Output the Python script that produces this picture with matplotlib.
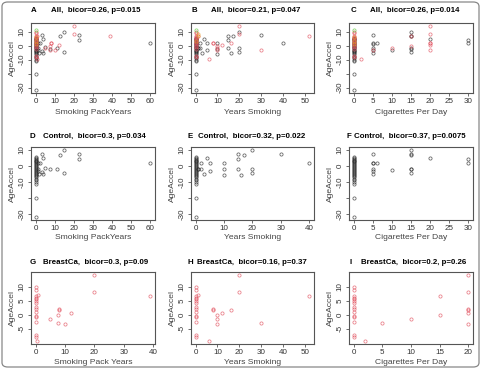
import matplotlib
matplotlib.use("Agg")
import matplotlib.pyplot as plt
from matplotlib.patches import FancyBboxPatch

plt.rcParams['font.family'] = ['Liberation Sans', 'DejaVu Sans']

# ---------------- data ----------------
ctrl_zero_y = [5.6, 5.0, 4.4, 3.8, 3.2, 2.7, 2.1, 1.5, 1.0, 0.4, -0.2, -0.8, -1.3, -1.9,
               -2.5, -3.0, -3.6, -4.2, -4.8, -5.5, -6.3, -7.2, -8.1, -9.0, -10.0, -11.0,
               -20.0, -32.0]
bc_zero_y = [9.7, 8.8, 6.6, 6.0, 5.4, 4.8, 4.0, 2.8, 1.9, 0.9, -0.4, -0.9, -2.5, -7.2, -8.1]

# control smokers
ctrl_pack_x = [1, 1, 1, 2.3, 2, 3.5, 4, 3.3, 3.7, 5, 7.5, 11.4, 12.8, 15, 15, 22.7, 22.7, 60]
ctrl_pack_y = [2, -2, -3, 2, -5.3, 7.4, 4.6, -4, -5.3, -1.3, -2.3, -1.7, 6.7, 10, -4.4, 7.4, 4.2, 2]
ctrl_years_x = [1, 1, 2, 2, 3, 4, 5, 5, 10, 10, 10, 15, 15, 15, 16, 17, 20, 20, 20, 30, 40]
ctrl_years_y = [-1.7, -1.7, -1.7, 2, -5.3, 4.6, 1.9, -3.4, 1.9, -2.3, -6, 7.2, 4.2, -1.7,
                -5.5, 6.7, 10, -1.7, -4.4, 7.4, 2]
ctrl_cig_x = [5, 5, 5, 5, 5, 5, 6, 10, 15, 15, 15, 15, 15, 15, 20, 30, 30]
ctrl_cig_y = [7.4, 2, 1.5, -1.7, -3.4, -5.3, 2, -2.8, 10, 7.2, 6.7, -1.7, -2.3, -4.4, 4.6, 4.2, 2]

# breast cancer smokers
bc_pack_x = [0.6, 0.9, 5, 7.5, 7.5, 8.1, 8.1, 10.1, 12, 20, 20, 39]
bc_pack_y = [-9.6, 7.0, -1.6, -0.1, -3.0, 2.0, 1.6, -3.4, 0.7, 14.3, 8.1, 6.8]
bc_years_x = [1, 6, 8, 8, 10, 10, 10, 12, 16, 20, 20, 30, 52]
bc_years_y = [7.0, -9.6, 2.0, 1.6, 0.0, -1.5, -3.4, 0.7, 1.8, 14.3, 8.1, -3.0, 6.8]
bc_cig_x = [2, 5, 10, 15, 15, 20, 20, 20, 20, 20, 20]
bc_cig_y = [-9.6, -3.0, -1.5, 0.0, 6.8, 14.3, 8.1, 2.0, 1.6, 0.7, -3.4]

# extra (other) group shown only in "All" panels
oth_pack_x = [0, 0, 0, 0]
oth_pack_y = [11.0, 6.5, 3.5, 1.0]
oth_years_x = [0, 1, 1, 0]
oth_years_y = [11.0, 8.5, 7.0, 3.5]
oth_cig_x = [0, 0, 0, 0]
oth_cig_y = [11.0, 6.5, 3.5, 1.0]

letters = ["A", "B", "C", "D", "E", "F", "G", "H", "I"]
titles = ["All,  bicor=0.26, p=0.015", "All,  bicor=0.21, p=0.047", "All,  bicor=0.26, p=0.014",
          "Control,  bicor=0.3, p=0.034", "Control,  bicor=0.32, p=0.022", "Control,  bicor=0.37, p=0.0075",
          "BreastCa,  bicor=0.3, p=0.09", "BreastCa,  bicor=0.16, p=0.37", "BreastCa,  bicor=0.2, p=0.26"]
xlabels = ["Smoking PackYears", "Years Smoking", "Cigarettes Per Day",
           "Smoking PackYears", "Years Smoking", "Cigarettes Per Day",
           "Smoking Pack Years", "Years Smoking", "Cigarettes Per Day"]
xticks = [[0, 10, 20, 30, 40, 50, 60], [0, 10, 20, 30, 40, 50], [0, 5, 10, 15, 20, 25, 30],
          [0, 10, 20, 30, 40, 50, 60], [0, 10, 20, 30, 40], [0, 5, 10, 15, 20, 25, 30],
          [0, 10, 20, 30, 40], [0, 10, 20, 30, 40, 50], [0, 5, 10, 15, 20]]
yticks_top = [-30, -20, -10, 0, 10]
ylabels_top = ["-30", "", "-10", "0", "10"]
yticks_bot = [-5, 0, 5, 10]
ylabels_bot = ["-5", "0", "5", "10"]

# ---------------- layout ----------------
W, H = 481, 369
fig = plt.figure(figsize=(W / 100, H / 100), dpi=100)

col_x = [(31, 155), (191, 314), (349, 473)]
row_y = [(23, 93), (147, 220), (272, 344)]
title_y = [11, 136, 262]
xlab_y = [113, 237, 363]
ylab_x = [12, 172, 330]
letter_x = [[31, 191, 351], [30, 187, 347], [30, 187, 350]]
text_x = [[51, 211, 370], [43, 198, 354], [43, 197, 361]]

BLACK = "#2b2b2b"
RED = "#e2505e"
GREEN = "#66cc44"
ORANGE = "#e8a020"
AX = "#555555"


def panel_data(i):
    zc = [0] * len(ctrl_zero_y)
    zb = [0] * len(bc_zero_y)
    sets = {
        0: ("pack", True, True), 1: ("years", True, True), 2: ("cig", True, True),
        3: ("pack", True, False), 4: ("years", True, False), 5: ("cig", True, False),
        6: ("pack", False, True), 7: ("years", False, True), 8: ("cig", False, True),
    }
    kind, c, b = sets[i]
    cx = {"pack": ctrl_pack_x, "years": ctrl_years_x, "cig": ctrl_cig_x}[kind]
    cy = {"pack": ctrl_pack_y, "years": ctrl_years_y, "cig": ctrl_cig_y}[kind]
    bx = {"pack": bc_pack_x, "years": bc_years_x, "cig": bc_cig_x}[kind]
    by = {"pack": bc_pack_y, "years": bc_years_y, "cig": bc_cig_y}[kind]
    ox = {"pack": oth_pack_x, "years": oth_years_x, "cig": oth_cig_x}[kind]
    oy = {"pack": oth_pack_y, "years": oth_years_y, "cig": oth_cig_y}[kind]
    out = []
    if c:
        out.append((zc + cx, ctrl_zero_y + cy, BLACK, 0.75))
    if b:
        out.append((zb + bx, bc_zero_y + by, RED, 0.75))
    if c and b:
        out.append((ox[:1], oy[:1], GREEN, 0.8))
        out.append((ox[1:], oy[1:], ORANGE, 0.7))
    return out


for i in range(9):
    r, cidx = divmod(i, 3)
    x0, x1 = col_x[cidx]
    y0, y1 = row_y[r]
    ax = fig.add_axes([x0 / W, 1 - y1 / H, (x1 - x0) / W, (y1 - y0) / H])
    for xs, ys, col, a in panel_data(i):
        ax.plot(xs, ys, linestyle="none", marker="o", markersize=2.3,
                markerfacecolor="none", markeredgecolor=col, markeredgewidth=0.55, alpha=a)
    ax.margins(x=0.04, y=0.04)
    ax.set_xticks(xticks[i])
    if r < 2:
        ax.set_yticks(yticks_top)
        ax.set_yticklabels(ylabels_top)
    else:
        ax.set_yticks(yticks_bot)
        ax.set_yticklabels(ylabels_bot)
    for s in ax.spines.values():
        s.set_color(AX)
        s.set_linewidth(0.8)
    ax.tick_params(axis="both", direction="out", length=2.2, width=0.6, color=AX,
                   labelsize=5.8, labelcolor="#333333", pad=1.2)
    ax.tick_params(axis="y", labelrotation=90, pad=1.5)
    for lab in ax.get_yticklabels():
        lab.set_va("center")
    # title
    fig.text(letter_x[r][cidx] / W, 1 - title_y[r] / H, letters[i], fontsize=5.7,
             fontweight="bold", ha="left", va="center")
    fig.text(text_x[r][cidx] / W, 1 - title_y[r] / H, titles[i], fontsize=5.7,
             fontweight="bold", ha="left", va="center")
    fig.text((x0 + x1) / 2 / W, 1 - xlab_y[r] / H, xlabels[i], fontsize=6.1,
             color="#444444", ha="center", va="center")
    fig.text(ylab_x[cidx] / W, 1 - (y0 + y1) / 2 / H, "AgeAccel", fontsize=6.1,
             color="#444444", ha="center", va="center", rotation=90)

border = FancyBboxPatch((2 / W, 2 / H), (W - 4) / W, (H - 4) / H,
                        boxstyle="round,pad=0,rounding_size=0.012",
                        transform=fig.transFigure, fill=False,
                        edgecolor="#888888", linewidth=0.9)
fig.patches.append(border)

fig.savefig("out.png", dpi=100)
